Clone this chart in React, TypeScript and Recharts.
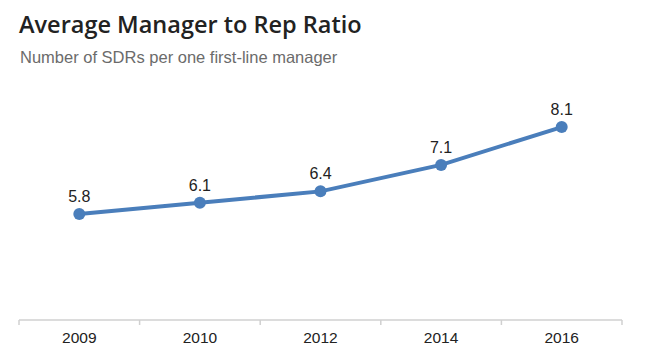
import { LineChart, Line, XAxis, YAxis, LabelList } from 'recharts';

const years = ['2009', '2010', '2012', '2014', '2016'];
const ratios = [5.8, 6.1, 6.4, 7.1, 8.1];

const data = years.map((year, i) => ({ year, ratio: ratios[i] }));

const WIDTH = 645;
const HEIGHT = 351;
const LEFT = 19;
const RIGHT = 23;
const BAND = (WIDTH - LEFT - RIGHT) / years.length;
const BLUE = '#4a7ebb';
const AXIS_GREY = '#d0d0d0';

const YearTick = (props: any) => {
  const { x, y, payload, index } = props;
  const half = BAND / 2;
  return (
    <g>
      <line x1={x - half} y1={y} x2={x - half} y2={y + 5} stroke={AXIS_GREY} strokeWidth={1.5} />
      {index === years.length - 1 && (
        <line x1={x + half} y1={y} x2={x + half} y2={y + 5} stroke={AXIS_GREY} strokeWidth={1.5} />
      )}
      <text x={x} y={y + 23} textAnchor="middle" fill="#222" fontSize={15.5} fontFamily="'Liberation Sans', Arial, sans-serif">
        {payload.value}
      </text>
    </g>
  );
};

export default function App() {
  return (
    <div style={{ position: 'absolute', left: 0, top: 0, width: WIDTH, height: HEIGHT, background: '#fff' }}>
      {/* heading */}
      <div
        style={{
          position: 'absolute',
          left: 19,
          top: 8,
          fontFamily: "'Open Sans', sans-serif",
          fontWeight: 600,
          fontSize: 23.5,
          color: '#222',
          whiteSpace: 'nowrap',
        }}
      >
        Average Manager to Rep Ratio
      </div>
      <div
        style={{
          position: 'absolute',
          left: 20,
          top: 48,
          fontFamily: "'Liberation Sans', Arial, sans-serif",
          fontSize: 16.5,
          color: '#6b6b6b',
          whiteSpace: 'nowrap',
        }}
      >
        Number of SDRs per one first-line manager
      </div>

      <LineChart width={WIDTH} height={HEIGHT} data={data} margin={{ top: 93, right: RIGHT, bottom: 0, left: LEFT }}>
        <XAxis
          dataKey="year"
          axisLine={{ stroke: AXIS_GREY, strokeWidth: 1.5 }}
          tickLine={false}
          tickSize={0}
          tickMargin={0}
          padding={{ left: BAND / 2, right: BAND / 2 }}
          tick={<YearTick />}
          interval={0}
          height={31}
        />
        <YAxis hide domain={[3, 9]} />
        <Line
          type="linear"
          dataKey="ratio"
          stroke={BLUE}
          strokeWidth={4}
          dot={{ r: 6, fill: BLUE, stroke: BLUE, strokeWidth: 0 }}
          isAnimationActive={false}
        >
          <LabelList
            dataKey="ratio"
            position="top"
            offset={12}
            fill="#222"
            fontSize={16}
            fontFamily="'Liberation Sans', Arial, sans-serif"
          />
        </Line>
      </LineChart>
    </div>
  );
}
